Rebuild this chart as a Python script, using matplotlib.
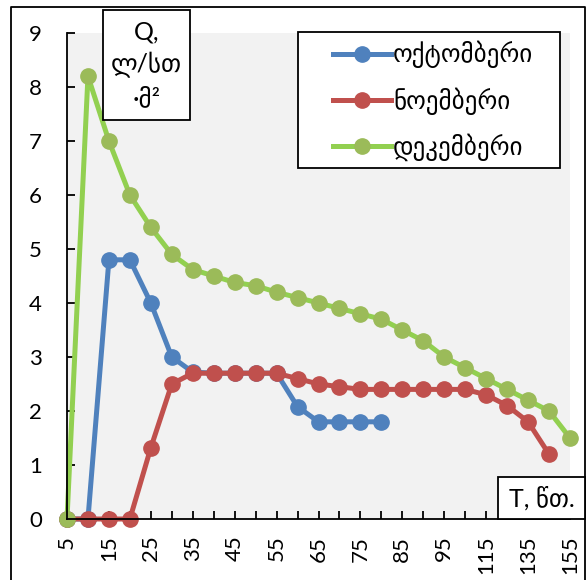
import matplotlib
matplotlib.use("Agg")
import matplotlib.pyplot as plt
from matplotlib.patches import Rectangle
from matplotlib.lines import Line2D

plt.rcParams['font.family'] = ['Lato', 'DejaVu Sans']

# time categories (min) - equal spacing on a category axis
times = [5, 10, 15, 20, 25, 30, 35, 40, 45, 50, 55, 60, 65, 70, 75, 80,
         85, 90, 95, 105, 115, 125, 135, 145, 155]

october = [0, 0, 4.8, 4.8, 4.0, 3.0, 2.72, 2.7, 2.7, 2.7, 2.7, 2.08, 1.8, 1.8, 1.8, 1.8]
november = [0, 0, 0, 0, 1.32, 2.5, 2.7, 2.7, 2.7, 2.7, 2.7, 2.6, 2.5, 2.45, 2.4, 2.4,
            2.4, 2.4, 2.4, 2.4, 2.3, 2.1, 1.8, 1.2]
december = [0, 8.2, 7.0, 6.0, 5.4, 4.9, 4.62, 4.5, 4.38, 4.32, 4.2, 4.1, 4.0, 3.9,
            3.8, 3.7, 3.5, 3.3, 3.0, 2.8, 2.6, 2.4, 2.2, 2.0, 1.5]

names = ["ოქტომბერი", "ნოემბერი", "დეკემბერი"]
line_colors = ["#4f81bd", "#c0504d", "#92d050"]
face_colors = ["#4f81bd", "#c0504d", "#9bbb59"]

W, H = 587, 580
fig = plt.figure(figsize=(W / 100, H / 100), dpi=100)
ax = fig.add_axes([67 / W, 61 / H, 503 / W, 486 / H])
ax.set_facecolor("#f2f2f2")

for vals, name, lc, fc in zip([october, november, december], names, line_colors, face_colors):
    ax.plot(range(len(vals)), vals, color=lc, lw=3.6, marker="o", ms=11,
            markerfacecolor=fc, markeredgecolor=fc, label=name, clip_on=False)

ax.set_xlim(0, len(times) - 1)
ax.set_ylim(0, 9)
ax.set_yticks(range(10))
ax.set_xticks(range(len(times)))
ax.set_xticklabels([str(t) if i % 2 == 0 else "" for i, t in enumerate(times)], rotation=90)
ax.tick_params(axis="both", direction="in", length=6, width=1.3, labelsize=16)
ax.tick_params(axis="y", pad=18)
ax.tick_params(axis="x", pad=12)
for s in ["top", "right"]:
    ax.spines[s].set_visible(False)
for s in ["left", "bottom"]:
    ax.spines[s].set_linewidth(1.3)

# legend frame drawn by hand so its size matches the original
fig.patches.append(Rectangle((298 / W, 1 - 168 / H), 262 / W, 136 / H,
                             transform=fig.transFigure, facecolor="white",
                             edgecolor="black", lw=1.3, zorder=4))
handles, labels = ax.get_legend_handles_labels()
leg = fig.legend(handles, labels, loc="center left", bbox_to_anchor=(333 / W, 1 - 101 / H),
                 borderaxespad=0, borderpad=0, fontsize=18, frameon=False,
                 handlelength=2.3, handletextpad=0.1, labelspacing=0.75)
leg.set_zorder(6)

# boxed axis titles, positioned in figure pixels
def boxed(x0, y0, x1, y1, text, size, ls):
    fig.patches.append(Rectangle((x0 / W, 1 - y1 / H), (x1 - x0) / W, (y1 - y0) / H,
                                 transform=fig.transFigure, facecolor="white",
                                 edgecolor="black", lw=1.3, zorder=5))
    fig.text((x0 + x1) / 2 / W, 1 - (y0 + y1) / 2 / H, text, ha="center", va="center",
             fontsize=size, linespacing=ls, zorder=6)

boxed(103, 10, 190, 120, "Q,\nლ/სთ\n·მ²", 18, 1.45)
boxed(498, 477, 585, 519, "T, წთ.", 18, 1.0)

# outer chart frame
fig.add_artist(Line2D([11 / W, 11 / W, 585 / W, 585 / W], [-0.01, 1 - 7 / H, 1 - 7 / H, -0.01],
                      transform=fig.transFigure, color="black", lw=1.3))

fig.savefig("out.png", dpi=100)
